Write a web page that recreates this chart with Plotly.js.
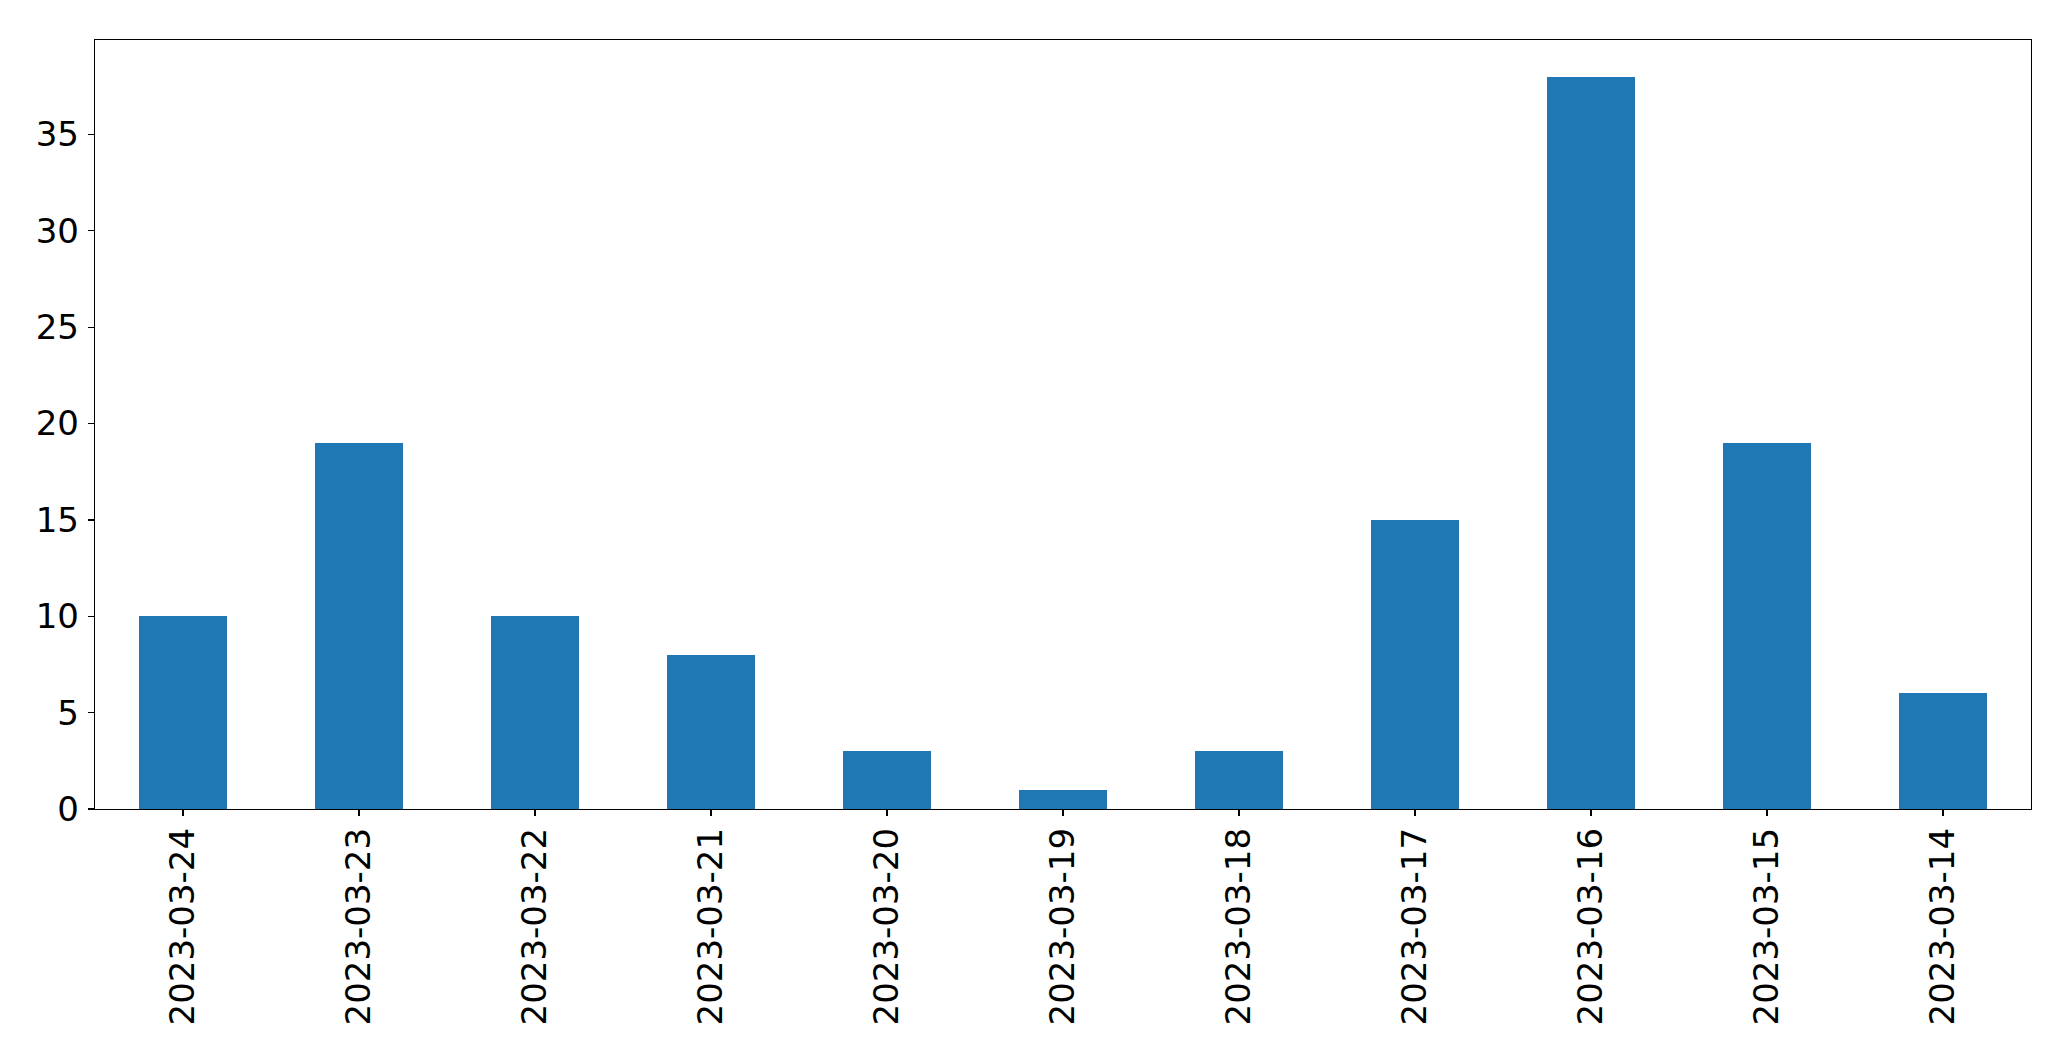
<!DOCTYPE html>
<html><head><meta charset="utf-8">
<script src="https://cdn.plot.ly/plotly-3.0.1.min.js"></script>
<style>html,body{margin:0;padding:0;background:#fff}#chart{width:2071px;height:1061px}</style>
</head><body><div id="chart"></div>
<script>
const dates = ["2023-03-24","2023-03-23","2023-03-22","2023-03-21","2023-03-20","2023-03-19","2023-03-18","2023-03-17","2023-03-16","2023-03-15","2023-03-14"];
const counts = [10, 19, 10, 8, 3, 1, 3, 15, 38, 19, 6];
const yTicks = [0, 5, 10, 15, 20, 25, 30, 35];

const font = {family: "DejaVu Sans, sans-serif", size: 34, color: "#000"};
Plotly.newPlot("chart", [{
  type: "bar", x: dates, y: counts, width: 0.5,
  marker: {color: "#1f77b4", line: {width: 0}}, hoverinfo: "none"
}], {
  width: 2071, height: 1061,
  margin: {l: 94.5, r: 39.5, t: 39.5, b: 252, pad: 0},
  paper_bgcolor: "#fff", plot_bgcolor: "#fff",
  showlegend: false, bargap: 0,
  xaxis: {
    type: "category", range: [-0.5, 10.5], tickangle: -90,
    tickfont: font, ticks: "outside", ticklen: 6, tickwidth: 1.3, tickcolor: "#000",
    showline: true, mirror: true, linecolor: "#000", linewidth: 1.3,
    showgrid: false, zeroline: false, ticklabelstandoff: -2, automargin: false
  },
  yaxis: {
    range: [0, 39.9], tickvals: yTicks, ticktext: yTicks.map(String),
    tickfont: font, ticks: "outside", ticklen: 6, tickwidth: 1.3, tickcolor: "#000",
    showline: true, mirror: true, linecolor: "#000", linewidth: 1.3,
    showgrid: false, zeroline: false, ticklabelstandoff: 2, automargin: false
  }
}, {staticPlot: true, displayModeBar: false});
</script></body></html>
